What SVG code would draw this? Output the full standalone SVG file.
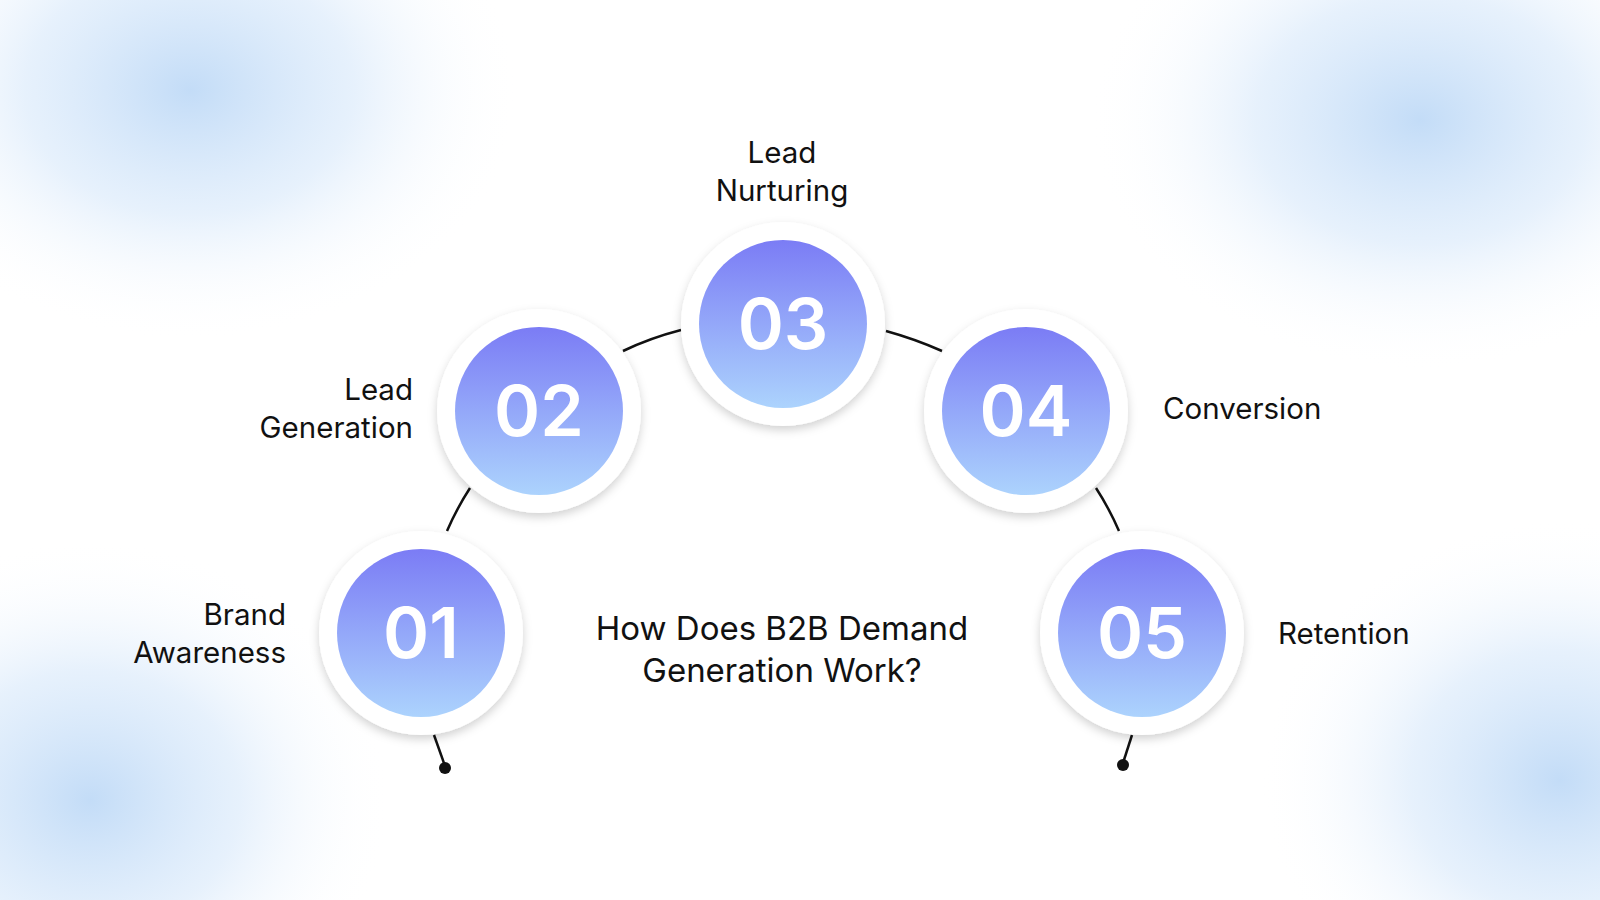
<svg xmlns="http://www.w3.org/2000/svg" width="1600" height="900" viewBox="0 0 1600 900">
<defs>
<radialGradient id="blob"><stop offset="0" stop-color="#c3dcf7"/><stop offset="0.5" stop-color="#dcebfb" stop-opacity="0.7"/><stop offset="1" stop-color="#ffffff" stop-opacity="0"/></radialGradient>
<linearGradient id="g" x1="0" y1="0" x2="0" y2="1"><stop offset="0" stop-color="#7b7cf5"/><stop offset="1" stop-color="#acd3fd"/></linearGradient>
<filter id="sh" x="-30%" y="-30%" width="160%" height="160%"><feDropShadow dx="0" dy="4" stdDeviation="5" flood-color="#000" flood-opacity="0.18"/></filter>
<style>
.lbl{font-family:"Inter","Liberation Sans",sans-serif;font-size:29.5px;fill:#111}
.num{font-family:"Inter","Liberation Sans",sans-serif;font-size:70px;font-weight:600;fill:#fff;text-anchor:middle}
.ln{fill:none;stroke:#111;stroke-width:2.5}
</style>
</defs>
<rect width="1600" height="900" fill="#fff"/>
<ellipse cx="190" cy="90" rx="330" ry="250" fill="url(#blob)"/>
<ellipse cx="1420" cy="120" rx="330" ry="250" fill="url(#blob)"/>
<ellipse cx="90" cy="800" rx="300" ry="260" fill="url(#blob)"/>
<ellipse cx="1560" cy="780" rx="300" ry="260" fill="url(#blob)"/>
<g id="connectors">
<path class="ln" d="M623,351 Q650,338 681,330"/>
<path class="ln" d="M886,331 Q915,339 942,351"/>
<path class="ln" d="M447,531 Q457,508 470,488"/>
<path class="ln" d="M1096,488 Q1109,508 1119,531"/>
<path class="ln" d="M434,735 L445,766"/><circle cx="445" cy="768" r="6" fill="#111"/>
<path class="ln" d="M1132,735 L1123,763"/><circle cx="1123" cy="765" r="6" fill="#111"/>
</g>
<g id="n1"><circle cx="421" cy="633" r="102" fill="#fff" filter="url(#sh)"/><circle cx="421" cy="633" r="84" fill="url(#g)"/><text class="num" x="421" y="658">01</text>
<text class="lbl" x="286" y="625" text-anchor="end">Brand</text><text class="lbl" x="286" y="663" text-anchor="end">Awareness</text></g>
<g id="n2"><circle cx="539" cy="411" r="102" fill="#fff" filter="url(#sh)"/><circle cx="539" cy="411" r="84" fill="url(#g)"/><text class="num" x="539" y="436">02</text>
<text class="lbl" x="413" y="400" text-anchor="end">Lead</text><text class="lbl" x="413" y="438" text-anchor="end">Generation</text></g>
<g id="n3"><circle cx="783" cy="324" r="102" fill="#fff" filter="url(#sh)"/><circle cx="783" cy="324" r="84" fill="url(#g)"/><text class="num" x="783" y="349">03</text>
<text class="lbl" x="782" y="163" text-anchor="middle">Lead</text><text class="lbl" x="782" y="201" text-anchor="middle">Nurturing</text></g>
<g id="n4"><circle cx="1026" cy="411" r="102" fill="#fff" filter="url(#sh)"/><circle cx="1026" cy="411" r="84" fill="url(#g)"/><text class="num" x="1026" y="436">04</text>
<text class="lbl" x="1163" y="419">Conversion</text></g>
<g id="n5"><circle cx="1142" cy="633" r="102" fill="#fff" filter="url(#sh)"/><circle cx="1142" cy="633" r="84" fill="url(#g)"/><text class="num" x="1142" y="658">05</text>
<text class="lbl" x="1278" y="644">Retention</text></g>
<g id="title"><text class="lbl" style="font-size:33px" x="782" y="640" text-anchor="middle">How Does B2B Demand</text><text class="lbl" style="font-size:33px" x="782" y="682" text-anchor="middle">Generation Work?</text></g>
</svg>
